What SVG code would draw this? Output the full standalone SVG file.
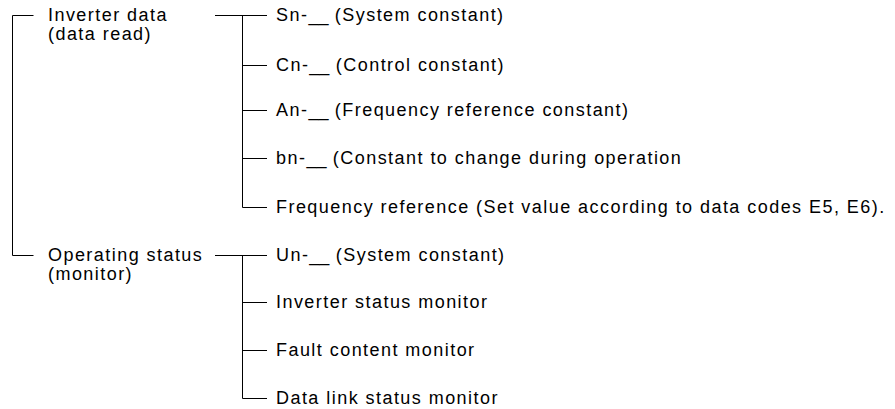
<svg xmlns="http://www.w3.org/2000/svg" width="895" height="409" viewBox="0 0 895 409">
<style>
text{font-family:"Liberation Sans",Arial,sans-serif;font-size:18px;letter-spacing:1.45px;fill:#000}
.c{stroke:#000;stroke-width:1;fill:none}
.u{letter-spacing:0}
</style>
<rect width="895" height="409" fill="#fff"/>
<g id="connectors">
<path class="c" d="M33.5 15.5H12.5V255.5H33.5"/>
<path class="c" d="M215 15.5H267M242.5 15.5V207.5H267M242.5 65.5H267M242.5 110.5H267M242.5 158.5H267"/>
<path class="c" d="M215 255.5H267M242.5 255.5V398.5H267M242.5 302.5H267M242.5 350.5H267"/>
</g>
<g id="inverter-data"><text x="48" y="21">Inverter data</text><text x="48" y="40">(data read)</text></g>
<g id="operating-status"><text x="48" y="261">Operating status</text><text x="48" y="280">(monitor)</text></g>
<g id="sn"><text x="276" y="21">Sn-<tspan class="u">__</tspan> (System constant)</text></g>
<g id="cn"><text x="276" y="71">Cn-<tspan class="u">__</tspan> (Control constant)</text></g>
<g id="an"><text x="276" y="116">An-<tspan class="u">__</tspan> (Frequency reference constant)</text></g>
<g id="bn"><text x="276" y="164">bn-<tspan class="u">__</tspan> (Constant to change during operation</text></g>
<g id="freq"><text x="276" y="213">Frequency reference (Set value according to data codes E5, E6).</text></g>
<g id="un"><text x="276" y="261">Un-<tspan class="u">__</tspan> (System constant)</text></g>
<g id="inv-status"><text x="276" y="308">Inverter status monitor</text></g>
<g id="fault"><text x="276" y="356">Fault content monitor</text></g>
<g id="datalink"><text x="276" y="404">Data link status monitor</text></g>
</svg>
